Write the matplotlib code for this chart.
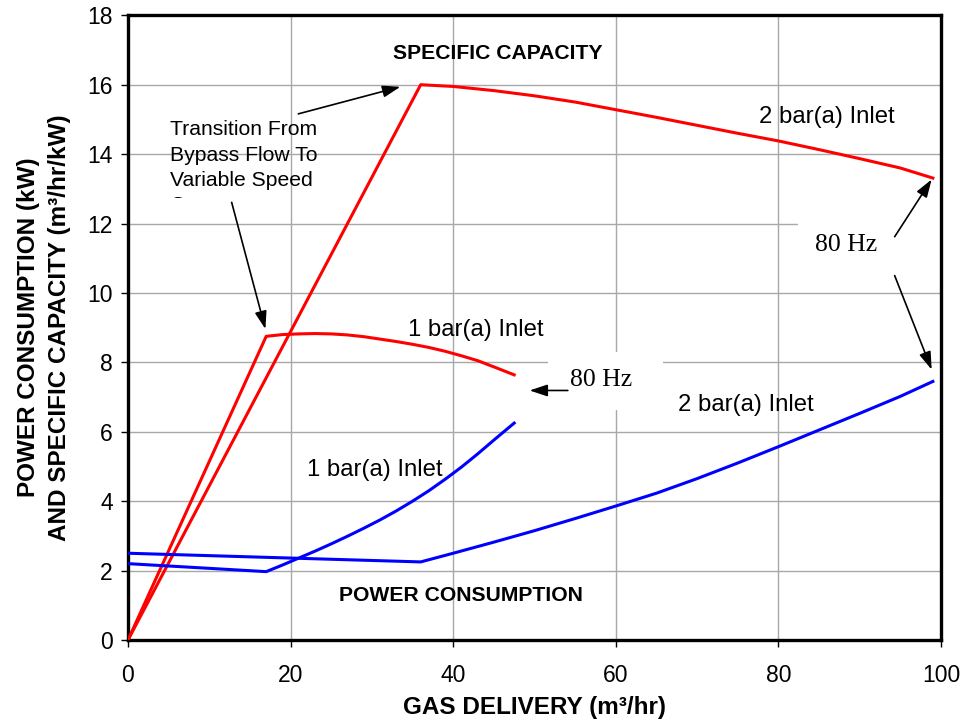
import matplotlib
matplotlib.use("Agg")
import matplotlib.pyplot as plt
from matplotlib.patches import Rectangle

plt.rcParams['font.family'] = ['Liberation Sans', 'DejaVu Sans']

# ---- data ----
sc2_x = [0, 36, 40, 45, 50, 55, 60, 65, 70, 75, 80, 85, 90, 95, 99]
sc2_y = [0, 16.0, 15.95, 15.83, 15.68, 15.5, 15.28, 15.06, 14.83, 14.6, 14.38, 14.13, 13.87, 13.6, 13.31]

sc1_x = [0, 17, 19, 21, 23, 25, 27, 29, 31, 33, 35, 37, 39, 41, 43, 45, 47.5]
sc1_y = [0, 8.75, 8.80, 8.82, 8.83, 8.82, 8.79, 8.74, 8.67, 8.60, 8.52, 8.43, 8.32, 8.19, 8.05, 7.87, 7.64]

pw1_x = [0, 17, 19, 21, 23, 25, 27, 29, 31, 33, 35, 37, 39, 41, 43, 45, 47.5]
pw1_y = [2.2, 1.97, 2.16, 2.36, 2.56, 2.77, 2.99, 3.22, 3.46, 3.72, 4.0, 4.3, 4.63, 4.98, 5.36, 5.76, 6.25]

pw2_x = [0, 36, 40, 45, 50, 55, 60, 65, 70, 75, 80, 85, 90, 95, 99]
pw2_y = [2.5, 2.25, 2.5, 2.82, 3.15, 3.5, 3.86, 4.23, 4.65, 5.1, 5.57, 6.05, 6.53, 7.02, 7.45]

x_ticks = [0, 20, 40, 60, 80, 100]
y_ticks = [0, 2, 4, 6, 8, 10, 12, 14, 16, 18]

fig = plt.figure(figsize=(9.63, 7.23), dpi=100)
ax = fig.add_axes([128/963, 83/723, (941-128)/963, (640-15.3)/723])

ax.set_xlim(0, 100)
ax.set_ylim(0, 18)
ax.set_xticks(x_ticks)
ax.set_yticks(y_ticks)
ax.tick_params(axis='both', labelsize=16.5, length=5, width=1, direction='out')
ax.tick_params(axis='x', pad=12)
ax.tick_params(axis='y', pad=6)

# grid
for xv in [20, 40, 60, 80]:
    ax.axvline(xv, color='#a8a8a8', lw=1.0, zorder=0)
for yv in y_ticks[1:-1]:
    ax.axhline(yv, color='#a8a8a8', lw=1.0, zorder=0)

for s in ax.spines.values():
    s.set_linewidth(2.4)
    s.set_color('black')

# white boxes behind the 80 Hz labels
ax.add_patch(Rectangle((51.7, 6.63), 14.1, 1.67, facecolor='white', edgecolor='none', zorder=1))
ax.add_patch(Rectangle((82.4, 10.24), 17.6, 2.45, facecolor='white', edgecolor='none', zorder=1))

lw = 2.2
ax.plot(sc2_x, sc2_y, color='#ff0000', lw=lw, zorder=3)
ax.plot(sc1_x, sc1_y, color='#ff0000', lw=lw, zorder=3)
ax.plot(pw1_x, pw1_y, color='#0000ff', lw=lw, zorder=3)
ax.plot(pw2_x, pw2_y, color='#0000ff', lw=lw, zorder=3)

# labels
ax.text(45.5, 16.9, 'SPECIFIC CAPACITY', fontsize=15.2, fontweight='bold', ha='center', va='center')
ax.text(41.0, 1.27, 'POWER CONSUMPTION', fontsize=15.2, fontweight='bold', ha='center', va='center')
ax.text(85.9, 15.06, '2 bar(a) Inlet', fontsize=17.2, ha='center', va='center')
ax.text(42.8, 8.94, '1 bar(a) Inlet', fontsize=17.2, ha='center', va='center')
ax.text(76.0, 6.78, '2 bar(a) Inlet', fontsize=17.2, ha='center', va='center')
ax.text(30.3, 4.9, '1 bar(a) Inlet', fontsize=17.2, ha='center', va='center')

# transition text (last line clipped)
clip = Rectangle((0, 12.75), 40, 6, transform=ax.transData)
t = ax.text(5.17, 14.97, 'Transition From\nBypass Flow To\nVariable Speed\nCompressor',
            fontsize=15.2, ha='left', va='top', linespacing=1.42, zorder=4, clip_on=True)
t.set_clip_path(clip)

arrow = dict(arrowstyle='-|>,head_length=0.9,head_width=0.3', color='black', lw=1.2,
             shrinkA=0, shrinkB=0, mutation_scale=12)
ax.annotate('', xy=(33.5, 15.94), xytext=(20.95, 15.16), arrowprops=arrow, zorder=5)
ax.annotate('', xy=(16.9, 8.96), xytext=(12.75, 12.61), arrowprops=arrow, zorder=5)

ax.text(54.4, 7.5, '80 Hz', fontsize=18.5, family=['Liberation Serif', 'DejaVu Serif'],
        ha='left', va='center', zorder=4)
ax.annotate('', xy=(49.4, 7.19), xytext=(54.1, 7.19), arrowprops=arrow, zorder=5)

ax.text(84.5, 11.39, '80 Hz', fontsize=18.5, family=['Liberation Serif', 'DejaVu Serif'],
        ha='left', va='center', zorder=4)
ax.annotate('', xy=(98.85, 13.27), xytext=(94.3, 11.62), arrowprops=arrow, zorder=5)
ax.annotate('', xy=(98.85, 7.79), xytext=(94.3, 10.5), arrowprops=arrow, zorder=5)

ax.set_xlabel('GAS DELIVERY (m³/hr)', fontsize=17.5, fontweight='bold', labelpad=7)
ax.set_ylabel('POWER CONSUMPTION (kW)\nAND SPECIFIC CAPACITY (m³/hr/kW)', fontsize=17.5,
              fontweight='bold', labelpad=12, multialignment='center', linespacing=1.4)

fig.savefig('out.png', dpi=100)
